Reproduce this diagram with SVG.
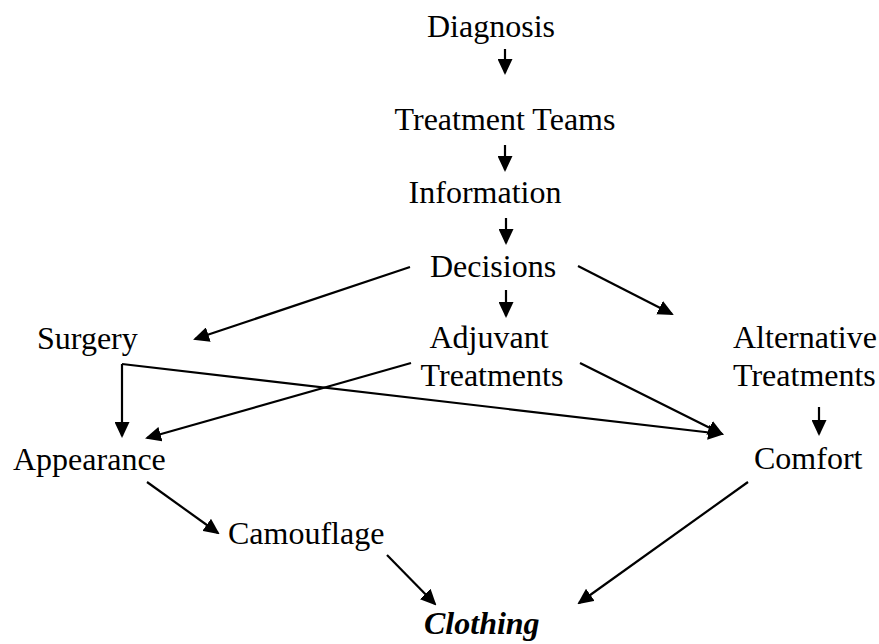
<svg xmlns="http://www.w3.org/2000/svg" width="879" height="644" viewBox="0 0 879 644">
<defs>
<style>
text{font-family:"Liberation Serif","Times New Roman",serif;font-size:32px;fill:#000}
.c{text-anchor:middle}
.bi{font-weight:bold;font-style:italic}
.ln{stroke:#000;stroke-width:2.2;fill:none;marker-end:url(#ah)}
</style>
<marker id="ah" markerUnits="userSpaceOnUse" markerWidth="16" markerHeight="15" refX="14" refY="7.5" orient="auto">
<path d="M0,0 L16,7.5 L0,15 z" fill="#000"/>
</marker>
</defs>
<rect width="879" height="644" fill="#fff"/>
<g id="connectors">
<path class="ln" d="M505,49 L505,73"/>
<path class="ln" d="M505,145 L505,170"/>
<path class="ln" d="M506,218 L506,243"/>
<path class="ln" d="M410,267 L195,339"/>
<path class="ln" d="M506,290 L506,316"/>
<path class="ln" d="M578,266 L672,314"/>
<path class="ln" d="M122,364 L122,436"/>
<path class="ln" d="M122,364 L722,434"/>
<path class="ln" d="M411,363 L147,438"/>
<path class="ln" d="M580,363 L722,434"/>
<path class="ln" d="M819,407 L819,434"/>
<path class="ln" d="M147,482 L218,533"/>
<path class="ln" d="M387,555 L435,604"/>
<path class="ln" d="M748,482 L579,603"/>
</g>
<g id="diagnosis"><text class="c" x="491" y="37">Diagnosis</text></g>
<g id="treatment-teams"><text class="c" x="505" y="130">Treatment Teams</text></g>
<g id="information"><text class="c" x="485" y="203">Information</text></g>
<g id="decisions"><text class="c" x="493" y="277">Decisions</text></g>
<g id="surgery"><text x="37" y="349">Surgery</text></g>
<g id="adjuvant-treatments"><text class="c" x="489" y="348">Adjuvant</text><text class="c" x="492" y="386">Treatments</text></g>
<g id="alternative-treatments"><text x="733" y="348">Alternative</text><text x="733" y="386">Treatments</text></g>
<g id="appearance"><text x="13" y="470">Appearance</text></g>
<g id="comfort"><text x="754" y="469">Comfort</text></g>
<g id="camouflage"><text x="228" y="544">Camouflage</text></g>
<g id="clothing"><text class="bi" x="424" y="634">Clothing</text></g>
</svg>
